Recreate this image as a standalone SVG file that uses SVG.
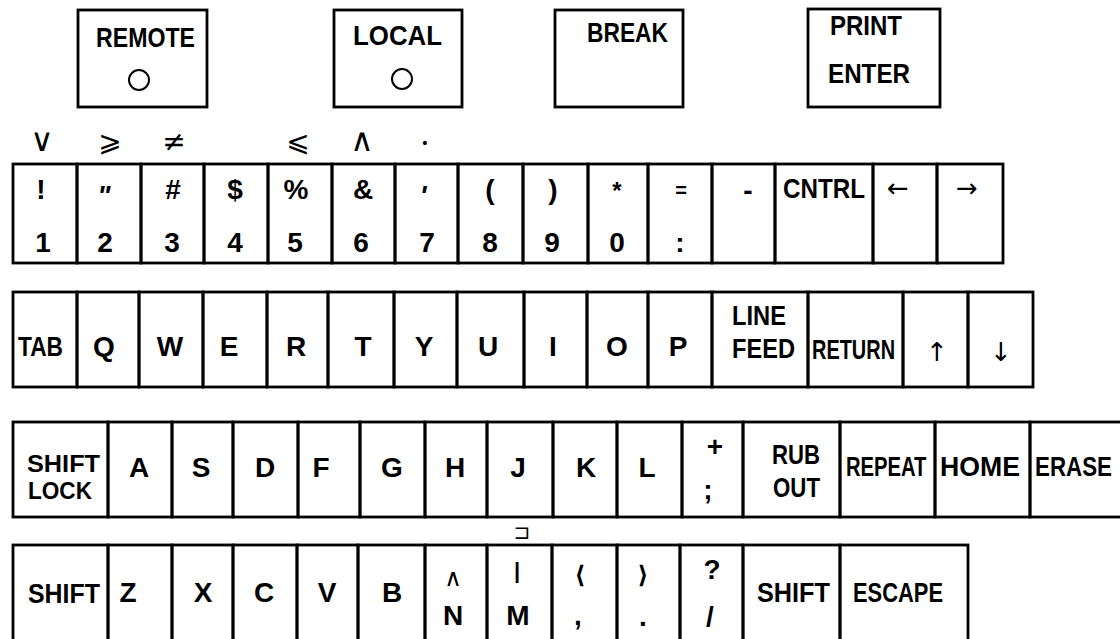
<svg xmlns="http://www.w3.org/2000/svg" width="1120" height="639" viewBox="0 0 1120 639">
<style>
.k{fill:none;stroke:#000;stroke-width:2.8}
.c{fill:none;stroke:#000;stroke-width:2}
.t{font-family:"Liberation Sans",Arial,sans-serif;font-weight:bold;font-size:28px;fill:#000;text-anchor:middle}
.l{text-anchor:start}
.s{font-family:"DejaVu Sans","Liberation Sans",sans-serif;font-weight:normal;font-size:28px;fill:#000;text-anchor:middle}
.a{font-family:"DejaVu Sans","Liberation Sans",sans-serif;font-weight:normal;font-size:26px;fill:#000;text-anchor:middle}
</style>
<rect width="1120" height="639" fill="#fff"/>

<!-- top buttons -->
<g id="btn-remote"><rect class="k" x="78" y="10" width="129" height="97"/><text class="t" x="145.5" y="47" textLength="99" lengthAdjust="spacingAndGlyphs">REMOTE</text><circle class="c" cx="139" cy="80" r="10"/></g>
<g id="btn-local"><rect class="k" x="334" y="10" width="128" height="97"/><text class="t" x="397.5" y="45" textLength="89" lengthAdjust="spacingAndGlyphs">LOCAL</text><circle class="c" cx="402" cy="79" r="10"/></g>
<g id="btn-break"><rect class="k" x="555" y="10" width="128" height="97"/><text class="t" x="627.5" y="42" textLength="81" lengthAdjust="spacingAndGlyphs">BREAK</text></g>
<g id="btn-print"><rect class="k" x="808" y="9" width="132" height="98"/><text class="t" x="866" y="35" textLength="72" lengthAdjust="spacingAndGlyphs">PRINT</text><text class="t" x="869" y="83" textLength="82" lengthAdjust="spacingAndGlyphs">ENTER</text></g>

<!-- symbols above row 1 -->
<g id="upper-symbols">
<text class="s" x="42" y="151" style="font-size:32px">∨</text>
<text class="s" x="110" y="151">⩾</text>
<text class="s" x="174" y="151">≠</text>
<text class="s" x="298" y="151">⩽</text>
<text class="s" x="362" y="151" style="font-size:32px">∧</text>
<text class="s" x="425" y="148" style="font-size:14px">•</text>
</g>

<!-- row 1 -->
<g id="key-1"><rect class="k" x="13" y="164" width="64" height="99"/><text class="t" x="41" y="199">!</text><text class="t" x="43" y="252">1</text></g>
<g id="key-2"><rect class="k" x="77" y="164" width="64" height="99"/><text class="t" x="104" y="205" style="font-style:italic">"</text><text class="t" x="105" y="252">2</text></g>
<g id="key-3"><rect class="k" x="141" y="164" width="63" height="99"/><text class="t" x="173" y="199">#</text><text class="t" x="172" y="252">3</text></g>
<g id="key-4"><rect class="k" x="204" y="164" width="64" height="99"/><text class="t" x="235" y="199">$</text><text class="t" x="235" y="252">4</text></g>
<g id="key-5"><rect class="k" x="268" y="164" width="64" height="99"/><text class="t" x="296" y="199">%</text><text class="t" x="295" y="252">5</text></g>
<g id="key-6"><rect class="k" x="332" y="164" width="63" height="99"/><text class="t" x="363" y="199">&amp;</text><text class="t" x="361" y="252">6</text></g>
<g id="key-7"><rect class="k" x="395" y="164" width="63" height="99"/><text class="t" x="423" y="205" style="font-style:italic">'</text><text class="t" x="427" y="252">7</text></g>
<g id="key-8"><rect class="k" x="458" y="164" width="65" height="99"/><text class="t" x="490" y="199">(</text><text class="t" x="490" y="252">8</text></g>
<g id="key-9"><rect class="k" x="523" y="164" width="65" height="99"/><text class="t" x="553" y="199">)</text><text class="t" x="552" y="252">9</text></g>
<g id="key-0"><rect class="k" x="588" y="164" width="60" height="99"/><text class="t" x="617" y="199" style="font-size:24px">*</text><text class="t" x="617" y="252">0</text></g>
<g id="key-colon"><rect class="k" x="648" y="164" width="64" height="99"/><text class="t" x="681" y="197" style="font-size:20px">=</text><text class="t" x="680" y="252">:</text></g>
<g id="key-minus"><rect class="k" x="712" y="164" width="63" height="99"/><text class="t" x="748" y="200">-</text></g>
<g id="key-cntrl"><rect class="k" x="775" y="164" width="98" height="99"/><text class="t l" x="783" y="198" textLength="82" lengthAdjust="spacingAndGlyphs">CNTRL</text></g>
<g id="key-left"><rect class="k" x="873" y="164" width="64" height="99"/><text class="a" x="898" y="197">←</text></g>
<g id="key-right"><rect class="k" x="937" y="164" width="66" height="99"/><text class="a" x="967" y="197">→</text></g>

<!-- row 2 -->
<g id="key-tab"><rect class="k" x="13" y="292" width="64" height="95"/><text class="t" x="40.5" y="356" textLength="45" lengthAdjust="spacingAndGlyphs">TAB</text></g>
<g id="key-q"><rect class="k" x="77" y="292" width="62" height="95"/><text class="t" x="104" y="356">Q</text></g>
<g id="key-w"><rect class="k" x="139" y="292" width="64" height="95"/><text class="t" x="170" y="356">W</text></g>
<g id="key-e"><rect class="k" x="203" y="292" width="64" height="95"/><text class="t" x="229" y="356">E</text></g>
<g id="key-r"><rect class="k" x="267" y="292" width="61" height="95"/><text class="t" x="296" y="356">R</text></g>
<g id="key-t"><rect class="k" x="328" y="292" width="66" height="95"/><text class="t" x="363" y="356">T</text></g>
<g id="key-y"><rect class="k" x="394" y="292" width="63" height="95"/><text class="t" x="424" y="356">Y</text></g>
<g id="key-u"><rect class="k" x="457" y="292" width="67" height="95"/><text class="t" x="488" y="356">U</text></g>
<g id="key-i"><rect class="k" x="524" y="292" width="63" height="95"/><text class="t" x="553" y="356">I</text></g>
<g id="key-o"><rect class="k" x="587" y="292" width="61" height="95"/><text class="t" x="617" y="356">O</text></g>
<g id="key-p"><rect class="k" x="648" y="292" width="64" height="95"/><text class="t" x="678" y="356">P</text></g>
<g id="key-linefeed"><rect class="k" x="712" y="292" width="96" height="95"/><text class="t l" x="732" y="325" textLength="54" lengthAdjust="spacingAndGlyphs">LINE</text><text class="t l" x="732" y="358" textLength="63" lengthAdjust="spacingAndGlyphs">FEED</text></g>
<g id="key-return"><rect class="k" x="808" y="292" width="95" height="95"/><text class="t l" transform="translate(812,359) scale(0.712,1)">RETURN</text></g>
<g id="key-up"><rect class="k" x="903" y="292" width="65" height="95"/><text class="a" x="937" y="361">↑</text></g>
<g id="key-down"><rect class="k" x="968" y="292" width="65" height="95"/><text class="a" x="1001" y="361">↓</text></g>

<!-- row 3 -->
<g id="key-shiftlock"><rect class="k" x="13" y="422" width="95" height="95"/><text class="t l" x="27" y="472" style="font-size:24px" textLength="73" lengthAdjust="spacingAndGlyphs">SHIFT</text><text class="t l" x="28" y="499" style="font-size:24px" textLength="64" lengthAdjust="spacingAndGlyphs">LOCK</text></g>
<g id="key-a"><rect class="k" x="108" y="422" width="64" height="95"/><text class="t" x="139" y="477">A</text></g>
<g id="key-s"><rect class="k" x="172" y="422" width="61" height="95"/><text class="t" x="201" y="477">S</text></g>
<g id="key-d"><rect class="k" x="233" y="422" width="65" height="95"/><text class="t" x="265" y="477">D</text></g>
<g id="key-f"><rect class="k" x="298" y="422" width="62" height="95"/><text class="t" x="321" y="477">F</text></g>
<g id="key-g"><rect class="k" x="360" y="422" width="65" height="95"/><text class="t" x="392" y="477">G</text></g>
<g id="key-h"><rect class="k" x="425" y="422" width="62" height="95"/><text class="t" x="455" y="477">H</text></g>
<g id="key-j"><rect class="k" x="487" y="422" width="66" height="95"/><text class="t" x="518" y="477">J</text></g>
<g id="key-k"><rect class="k" x="553" y="422" width="64" height="95"/><text class="t" x="586" y="477">K</text></g>
<g id="key-l"><rect class="k" x="617" y="422" width="65" height="95"/><text class="t" x="647" y="477">L</text></g>
<g id="key-semicolon"><rect class="k" x="682" y="422" width="61" height="95"/><text class="t" x="715" y="456">+</text><text class="t" x="708" y="499">;</text></g>
<g id="key-rubout"><rect class="k" x="743" y="422" width="97" height="95"/><text class="t" x="796" y="464" textLength="48" lengthAdjust="spacingAndGlyphs">RUB</text><text class="t" x="796.5" y="497" textLength="47" lengthAdjust="spacingAndGlyphs">OUT</text></g>
<g id="key-repeat"><rect class="k" x="840" y="422" width="95" height="95"/><text class="t l" transform="translate(846,476) scale(0.722,1)">REPEAT</text></g>
<g id="key-home"><rect class="k" x="935" y="422" width="95" height="95"/><text class="t l" transform="translate(940,476) scale(0.952,1)">HOME</text></g>
<g id="key-erase"><rect class="k" x="1030" y="422" width="94" height="95"/><text class="t l" transform="translate(1035,476) scale(0.798,1)">ERASE</text></g>

<!-- symbol between rows 3 and 4 -->
<text id="sym-above-m" class="s" x="522" y="539" style="font-size:20px">⊐</text>

<!-- row 4 -->
<g id="key-shift-left"><rect class="k" x="13" y="545" width="95" height="100"/><text class="t" x="64" y="603" textLength="72" lengthAdjust="spacingAndGlyphs">SHIFT</text></g>
<g id="key-z"><rect class="k" x="108" y="545" width="64" height="100"/><text class="t" x="128" y="602">Z</text></g>
<g id="key-x"><rect class="k" x="172" y="545" width="61" height="100"/><text class="t" x="203" y="602">X</text></g>
<g id="key-c"><rect class="k" x="233" y="545" width="64" height="100"/><text class="t" x="264" y="602">C</text></g>
<g id="key-v"><rect class="k" x="297" y="545" width="61" height="100"/><text class="t" x="327" y="602">V</text></g>
<g id="key-b"><rect class="k" x="358" y="545" width="67" height="100"/><text class="t" x="392" y="602">B</text></g>
<g id="key-n"><rect class="k" x="425" y="545" width="62" height="100"/><text class="s" x="453" y="586" style="font-size:24px">∧</text><text class="t" x="453" y="625">N</text></g>
<g id="key-m"><rect class="k" x="487" y="545" width="65" height="100"/><text class="t" x="517" y="578" style="font-size:22px">|</text><text class="t" x="518" y="625">M</text></g>
<g id="key-comma"><rect class="k" x="552" y="545" width="65" height="100"/><text class="s" x="580" y="583" style="font-size:24px;font-weight:bold">⟨</text><text class="t" x="578" y="625">,</text></g>
<g id="key-period"><rect class="k" x="617" y="545" width="63" height="100"/><text class="s" x="643" y="583" style="font-size:24px;font-weight:bold">⟩</text><text class="t" x="643" y="626">.</text></g>
<g id="key-slash"><rect class="k" x="680" y="545" width="63" height="100"/><text class="t" x="712" y="579">?</text><text class="t" x="710" y="626">/</text></g>
<g id="key-shift-right"><rect class="k" x="743" y="545" width="97" height="100"/><text class="t" x="793.5" y="602" textLength="73" lengthAdjust="spacingAndGlyphs">SHIFT</text></g>
<g id="key-escape"><rect class="k" x="840" y="545" width="128" height="100"/><text class="t" x="898" y="602" textLength="90" lengthAdjust="spacingAndGlyphs">ESCAPE</text></g>
<g id="connectors"/>
</svg>
